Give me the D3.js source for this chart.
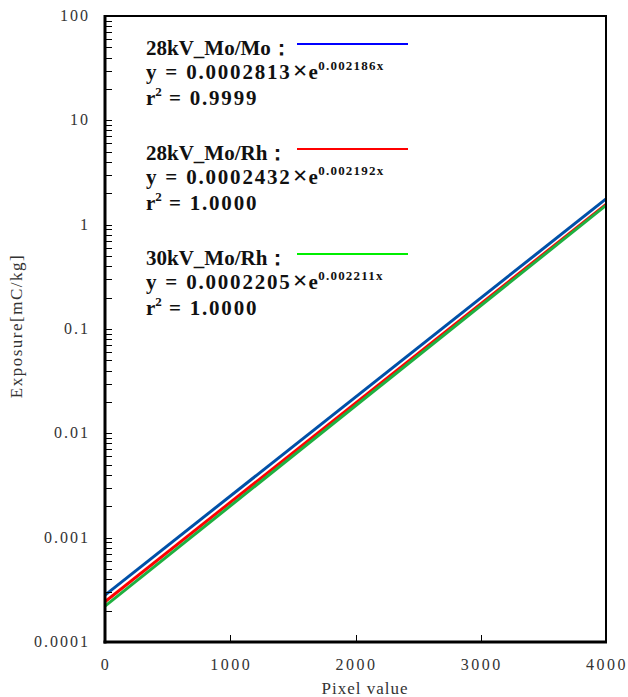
<!DOCTYPE html>
<html>
<head>
<meta charset="utf-8">
<script src="https://cdn.jsdelivr.net/npm/d3@7"></script>
<style>
  html, body { margin: 0; padding: 0; background: #fff; }
  svg { display: block; }
</style>
</head>
<body>
<svg id="chart" width="628" height="697"></svg>
<script>
// Exponential fits: Exposure = a * exp(b * pixel)
const seriesNames = ["28kV_Mo/Mo", "28kV_Mo/Rh", "30kV_Mo/Rh"];
const coefA = [0.0002813, 0.0002432, 0.0002205];
const coefB = [0.002186, 0.002192, 0.002211];
const rSquared = ["0.9999", "1.0000", "1.0000"];
const lineColors = ["#0050a8", "#ff0000", "#1fb040"];
const legendColors = ["#0000ff", "#ff0000", "#00ee00"];
const xTicks = [0, 1000, 2000, 3000, 4000];
const yTicks = [0.0001, 0.001, 0.01, 0.1, 1, 10, 100];
const yTickLabels = ["0.0001", "0.001", "0.01", "0.1", "1", "10", "100"];

const svg = d3.select("#chart");
const m = { left: 105, right: 606, top: 16, bottom: 642 };

const x = d3.scaleLinear().domain([0, 4000]).range([m.left, m.right]);
const y = d3.scaleLog().domain([0.0001, 100]).range([m.bottom, m.top]);

const serif = "'Liberation Serif', 'DejaVu Serif', serif";

// Fit lines (straight on a log axis, so the two domain ends define them)
const xDomain = x.domain();
const line = d3.line().x(d => x(d[0])).y(d => y(d[1]));
const plot = svg.append("g");
seriesNames.forEach((name, i) => {
  const pts = xDomain.map(px => [px, coefA[i] * Math.exp(coefB[i] * px)]);
  plot.append("path")
    .attr("d", line(pts))
    .attr("fill", "none")
    .attr("stroke", lineColors[i])
    .attr("stroke-width", 3);
});

// Minor ticks on the log axis (2..9 in every decade), drawn inward
const minor = [];
for (let e = -4; e < 2; e++) {
  for (let k = 2; k <= 9; k++) minor.push(k * Math.pow(10, e));
}
svg.append("g").selectAll("line")
  .data(minor.concat(yTicks))
  .join("line")
  .attr("x1", m.left).attr("x2", m.left + 7)
  .attr("y1", d => Math.round(y(d)) + 0.5).attr("y2", d => Math.round(y(d)) + 0.5)
  .attr("stroke", "#000").attr("stroke-width", 1);

// X ticks, drawn inward from the bottom edge
svg.append("g").selectAll("line")
  .data(xTicks.slice(1, -1))
  .join("line")
  .attr("x1", d => Math.round(x(d)) + 0.5).attr("x2", d => Math.round(x(d)) + 0.5)
  .attr("y1", m.bottom).attr("y2", m.bottom - 7)
  .attr("stroke", "#000").attr("stroke-width", 1);

// Frame
svg.append("line").attr("x1", m.left).attr("x2", m.right + 1)
  .attr("y1", m.top).attr("y2", m.top).attr("stroke", "#000").attr("stroke-width", 2);
svg.append("line").attr("x1", m.right).attr("x2", m.right)
  .attr("y1", m.top).attr("y2", m.bottom).attr("stroke", "#000").attr("stroke-width", 2);
svg.append("line").attr("x1", m.left).attr("x2", m.left)
  .attr("y1", m.top - 1).attr("y2", m.bottom + 1.5).attr("stroke", "#000").attr("stroke-width", 3);
svg.append("line").attr("x1", m.left - 1.5).attr("x2", m.right + 1)
  .attr("y1", m.bottom).attr("y2", m.bottom).attr("stroke", "#000").attr("stroke-width", 3);

// Tick labels
svg.append("g").selectAll("text")
  .data(yTicks)
  .join("text")
  .attr("x", 90).attr("y", d => y(d) + 5)
  .attr("text-anchor", "end")
  .attr("font-family", serif).attr("font-size", 16)
  .attr("letter-spacing", 2)
  .attr("fill", "#333")
  .text((d, i) => yTickLabels[i]);

svg.append("g").selectAll("text")
  .data(xTicks)
  .join("text")
  .attr("x", d => x(d) + 1).attr("y", 670)
  .attr("text-anchor", "middle")
  .attr("font-family", serif).attr("font-size", 16)
  .attr("letter-spacing", 2.5)
  .attr("fill", "#333")
  .text(d => String(d));

// Axis titles
svg.append("text")
  .attr("x", 365).attr("y", 694)
  .attr("text-anchor", "middle")
  .attr("font-family", serif).attr("font-size", 17)
  .attr("letter-spacing", 1)
  .attr("fill", "#333")
  .text("Pixel value");

svg.append("text")
  .attr("transform", "translate(22,326) rotate(-90)")
  .attr("text-anchor", "middle")
  .attr("font-family", serif).attr("font-size", 17)
  .attr("letter-spacing", 1.5)
  .attr("fill", "#333")
  .text("Exposure[mC/kg]");

// Legend with fit equations
const legend = svg.append("g").attr("font-family", serif).attr("font-weight", "bold").attr("fill", "#111");
seriesNames.forEach((name, i) => {
  const top = 55 + i * 105;
  const g = legend.append("g");
  g.append("text").attr("x", 146).attr("y", top).attr("font-size", 21)
    .text(name + "：");
  g.append("line")
    .attr("x1", 297).attr("x2", 408)
    .attr("y1", top - 11).attr("y2", top - 11)
    .attr("stroke", legendColors[i]).attr("stroke-width", 2);
  const eq = g.append("text").attr("x", 146).attr("y", top + 24).attr("font-size", 21);
  eq.append("tspan").attr("letter-spacing", 1.8)
    .text("y\u00a0=\u00a0" + coefA[i].toFixed(7));
  eq.append("tspan").attr("font-size", 26).attr("dx", 1).attr("letter-spacing", 1).text("×");
  eq.append("tspan").attr("letter-spacing", 0.5).text("e");
  eq.append("tspan").attr("font-size", 13).attr("dy", -9).attr("letter-spacing", 1.2)
    .text(coefB[i].toFixed(6) + "x");
  const r = g.append("text").attr("x", 146).attr("y", top + 50).attr("font-size", 21);
  r.append("tspan").text("r");
  r.append("tspan").attr("font-size", 13).attr("dy", -9).text("2");
  r.append("tspan").attr("dy", 9).attr("letter-spacing", 1.8).text("\u00a0=\u00a0" + rSquared[i]);
});
</script>
</body>
</html>
